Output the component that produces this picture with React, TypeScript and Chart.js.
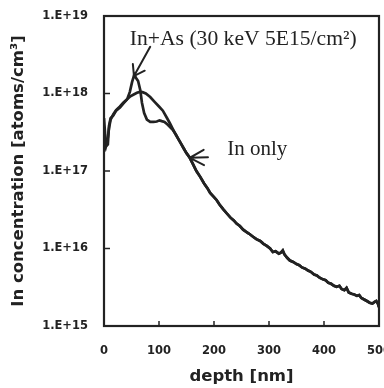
import React, { useEffect, useRef } from "react";
import { Chart, registerables } from "chart.js";

Chart.register(...registerables);

// ---- data ----
const depthInAs = [0, 2, 4, 7, 9, 12, 17, 22, 29, 35, 42, 47, 51, 55, 58, 62, 66, 69, 73, 78, 84, 90, 96, 101, 105, 110, 115, 120, 125];
const concInAs = [4.8e17, 3.0e17, 2.1e17, 2.2e17, 3.8e17, 4.8e17, 5.2e17, 6.0e17, 6.6e17, 7.4e17, 8.4e17, 1.05e18, 1.4e18, 1.75e18, 1.6e18, 1.45e18, 1.1e18, 7.6e17, 5.6e17, 4.6e17, 4.3e17, 4.3e17, 4.35e17, 4.5e17, 4.4e17, 4.3e17, 4.0e17, 3.7e17, 3.4e17];

const depthInOnly = [0, 3, 6, 9, 12, 17, 22, 29, 35, 42, 48, 54, 60, 65, 70, 76, 84, 92, 100, 107, 114, 120, 125];
const concInOnly = [2.3e17, 2.0e17, 2.4e17, 3.5e17, 4.6e17, 5.4e17, 6.1e17, 6.8e17, 7.6e17, 8.4e17, 9.2e17, 9.7e17, 1.02e18, 1.05e18, 1.04e18, 1.0e18, 9.0e17, 7.8e17, 6.8e17, 6.0e17, 4.9e17, 4.1e17, 3.5e17];

// common tail where both profiles coincide
const depthTail = [130, 135, 140, 145, 150, 156, 162, 168, 175, 182, 188, 193, 200, 205, 210, 217, 223, 230, 236, 241, 247, 253, 258, 264, 271, 277, 284, 290, 296, 302, 307, 312, 318, 322, 325, 328, 333, 338, 344, 350, 355, 360, 366, 371, 376, 382, 387, 392, 398, 403, 408, 413, 418, 423, 428, 432, 437, 441, 445, 450, 455, 460, 464, 468, 473, 478, 483, 488, 492, 495, 498, 500];
const concTail = [3.0e17, 2.6e17, 2.25e17, 1.95e17, 1.7e17, 1.48e17, 1.22e17, 1.0e17, 8.4e16, 6.9e16, 6.0e16, 5.2e16, 4.6e16, 4.2e16, 3.7e16, 3.2e16, 2.85e16, 2.5e16, 2.3e16, 2.1e16, 1.95e16, 1.75e16, 1.65e16, 1.55e16, 1.42e16, 1.32e16, 1.25e16, 1.15e16, 1.08e16, 1.0e16, 9.0e15, 9.2e15, 8.6e15, 8.9e15, 9.4e15, 8.4e15, 7.6e15, 7.0e15, 6.7e15, 6.3e15, 6.1e15, 5.7e15, 5.5e15, 5.2e15, 5.0e15, 4.6e15, 4.5e15, 4.2e15, 4.0e15, 3.9e15, 3.6e15, 3.5e15, 3.3e15, 3.2e15, 3.3e15, 3.0e15, 2.9e15, 3.1e15, 2.7e15, 2.6e15, 2.55e15, 2.45e15, 2.5e15, 2.3e15, 2.2e15, 2.1e15, 2.0e15, 1.95e15, 2.05e15, 2.1e15, 1.95e15, 1.75e15];

const xTicks = [0, 100, 200, 300, 400, 500];
const yTicks = [1e15, 1e16, 1e17, 1e18, 1e19];
const yTickLabels = ["1.E+15", "1.E+16", "1.E+17", "1.E+18", "1.E+19"];

const xTitle = "depth [nm]";
const yTitle = "In concentration [atoms/cm³]";
const labelInAs = "In+As (30 keV 5E15/cm²)";
const labelInOnly = "In only";

// annotation anchors in data coordinates
const inAsArrowTip = { x: 54.5, y: 1.68e18 };
const inAsArrowTail = { x: 84, y: 4.0e18 };
const inAsTextPos = { x: 47, y: 4.2e18 };
const inOnlyArrowTip = { x: 156, y: 1.48e17 };
const inOnlyArrowTail = { x: 189, y: 1.5e17 };
const inOnlyTextPos = { x: 224, y: 1.6e17 };

const INK = "#222";

function zip(xs: number[], ys: number[]) {
  return xs.map((x, i) => ({ x, y: ys[i] }));
}

const overlayPlugin = {
  id: "overlay",
  afterDatasetsDraw(chart: any) {
    const { ctx, chartArea } = chart;
    const xs = chart.scales.x;
    const ys = chart.scales.y;
    ctx.save();
    ctx.strokeStyle = INK;
    ctx.fillStyle = INK;
    ctx.lineCap = "round";

    // frame
    ctx.lineWidth = 2.2;
    ctx.strokeRect(chartArea.left, chartArea.top, chartArea.right - chartArea.left, chartArea.bottom - chartArea.top);

    // inner tick marks
    ctx.lineWidth = 1.5;
    ctx.lineCap = "butt";
    yTicks.slice(1, -1).forEach((v) => {
      const py = ys.getPixelForValue(v);
      ctx.beginPath();
      ctx.moveTo(chartArea.left, py);
      ctx.lineTo(chartArea.left + 6, py);
      ctx.stroke();
    });
    xTicks.slice(1, -1).forEach((v) => {
      const px = xs.getPixelForValue(v);
      ctx.beginPath();
      ctx.moveTo(px, chartArea.bottom);
      ctx.lineTo(px, chartArea.bottom - 5);
      ctx.stroke();
    });

    const P = (p: { x: number; y: number }) => [xs.getPixelForValue(p.x), ys.getPixelForValue(p.y)];

    const arrow = (tip: any, tail: any, barbLen: number, barbAng: number) => {
      const [tx, ty] = P(tip);
      const [sx, sy] = P(tail);
      const ang = Math.atan2(sy - ty, sx - tx);
      ctx.lineWidth = 2;
      ctx.lineCap = "round";
      ctx.beginPath();
      ctx.moveTo(sx, sy);
      ctx.lineTo(tx, ty);
      ctx.moveTo(tx + barbLen * Math.cos(ang + barbAng), ty + barbLen * Math.sin(ang + barbAng));
      ctx.lineTo(tx, ty);
      ctx.lineTo(tx + barbLen * Math.cos(ang - barbAng), ty + barbLen * Math.sin(ang - barbAng));
      ctx.stroke();
    };
    arrow(inAsArrowTip, inAsArrowTail, 12, 0.6);
    arrow(inOnlyArrowTip, inOnlyArrowTail, 16, 0.5);

    ctx.textBaseline = "alphabetic";
    ctx.textAlign = "left";
    ctx.font = '21.6px "Liberation Serif", "Times New Roman", serif';
    let [ax, ay] = P(inAsTextPos);
    ctx.fillText(labelInAs, ax, ay);
    ctx.font = '21px "Liberation Serif", "Times New Roman", serif';
    [ax, ay] = P(inOnlyTextPos);
    ctx.fillText(labelInOnly, ax, ay);
    ctx.restore();
  },
};

export default function App() {
  const ref = useRef<HTMLCanvasElement | null>(null);
  useEffect(() => {
    document.body.style.margin = "0";
    const canvas = ref.current!;
    const tickFont = { family: '"DejaVu Sans", sans-serif', weight: "bold" as const, size: 11.5 };
    const titleFont = { family: '"DejaVu Sans", sans-serif', weight: "bold" as const, size: 16.5 };
    const chart = new Chart(canvas, {
      type: "line",
      data: {
        datasets: [
          {
            label: "In+As",
            data: zip(depthInAs, concInAs).concat(zip(depthTail, concTail)),
            borderColor: INK,
            borderWidth: 2.7,
            pointRadius: 0,
            tension: 0,
            fill: false,
          },
          {
            label: "In only",
            data: zip(depthInOnly, concInOnly).concat(zip(depthTail, concTail)),
            borderColor: INK,
            borderWidth: 2.7,
            pointRadius: 0,
            tension: 0,
            fill: false,
          },
        ],
      },
      options: {
        responsive: false,
        animation: false,
        devicePixelRatio: 1,
        layout: { padding: { left: 0, right: 5, top: 16, bottom: 0 } },
        plugins: { legend: { display: false }, tooltip: { enabled: false } },
        scales: {
          x: {
            type: "linear",
            min: 0,
            max: 500,
            afterBuildTicks: (s: any) => {
              s.ticks = xTicks.map((v) => ({ value: v }));
            },
            afterFit: (s: any) => {
              s.height = 62;
              s.paddingLeft = 0;
              s.paddingRight = 0;
            },
            ticks: { font: tickFont, color: INK, padding: 18, maxRotation: 0, autoSkip: false },
            grid: { display: false, drawTicks: false },
            border: { display: false },
            title: { display: true, text: xTitle, font: titleFont, color: INK, padding: { top: 0, bottom: 1 } },
          },
          y: {
            type: "logarithmic",
            min: 1e15,
            max: 1e19,
            afterBuildTicks: (s: any) => {
              s.ticks = yTicks.map((v) => ({ value: v, major: true }));
            },
            afterFit: (s: any) => {
              s.width = 104;
              s.paddingTop = 0;
              s.paddingBottom = 0;
            },
            ticks: {
              font: tickFont,
              color: INK,
              padding: 16,
              autoSkip: false,
              callback: (_v: any, i: number) => yTickLabels[i],
            },
            grid: { display: false, drawTicks: false },
            border: { display: false },
            title: { display: true, text: yTitle, font: titleFont, color: INK, padding: { top: 9, bottom: 0 } },
          },
        },
      },
      plugins: [overlayPlugin],
    } as any);
    return () => chart.destroy();
  }, []);
  return (
    <div style={{ position: "absolute", left: 0, top: 0, width: 384, height: 388 }}>
      <canvas ref={ref} width={384} height={388} style={{ width: 384, height: 388, display: "block" }} />
    </div>
  );
}
